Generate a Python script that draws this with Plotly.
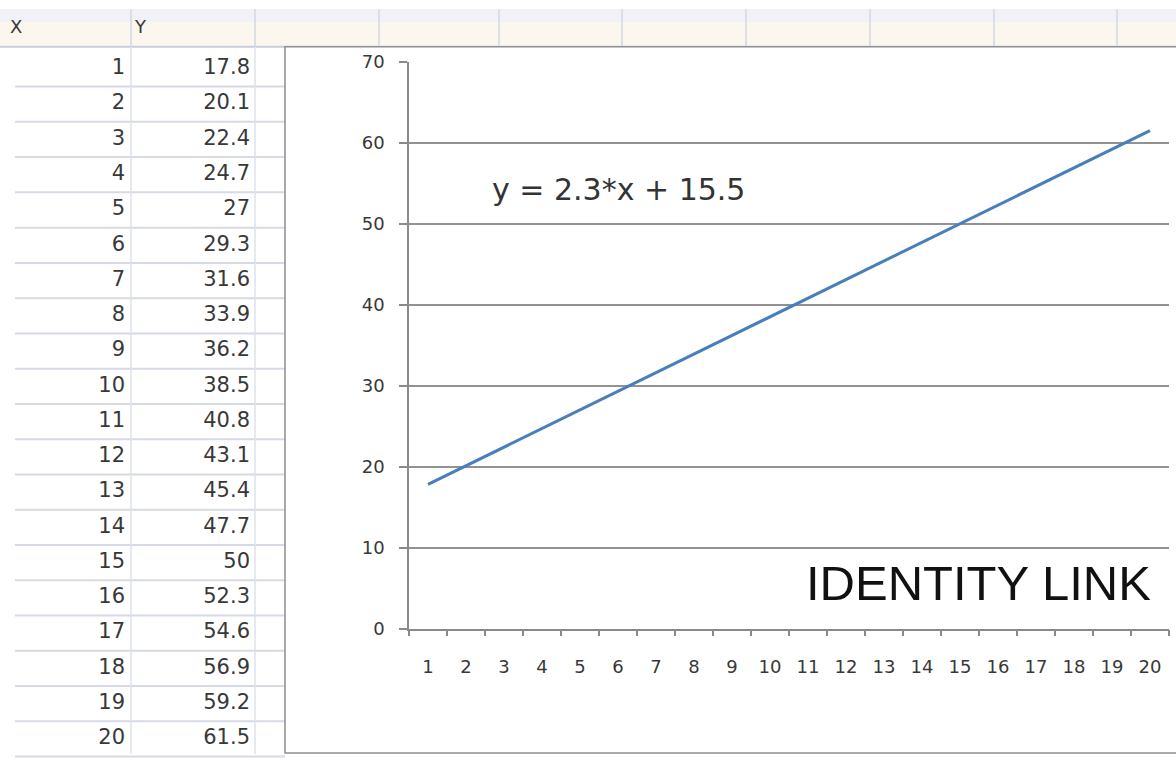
import plotly.graph_objects as go

# ---- data ----
x_vals = list(range(1, 21))
y_vals = [17.8, 20.1, 22.4, 24.7, 27, 29.3, 31.6, 33.9, 36.2, 38.5,
          40.8, 43.1, 45.4, 47.7, 50, 52.3, 54.6, 56.9, 59.2, 61.5]
header = ["X", "Y"]
x_tick_labels = [str(v) for v in x_vals]
y_tick_vals = [0, 10, 20, 30, 40, 50, 60, 70]
equation = "y = 2.3*x + 15.5"
chart_label = "IDENTITY LINK"

# ---- page geometry (screen pixels) ----
W, H = 1176, 764
TOP_OFF, VIS_H = 9, 746     # vertical extent the figure occupies on screen
ROW_TOP = 49.5              # top edge of first data row
ROW_H = 35.4                # data row height
COL_EDGES = [131, 255, 379, 499, 622, 746, 870, 994, 1117]
CHART_BOX = (285, 45, 1190, 754)    # left, top, right, bottom
PLOT_X = (409, 1169)
PLOT_Y = (60, 629)          # top (70), bottom (0)


def row_of(y):
    """screen y -> sheet row coordinate (row r is centred on r)."""
    return 0.5 + (y - ROW_TOP) / ROW_H


def px(v):
    return v / W


def py(v):
    return 1 - (v - TOP_OFF) / VIS_H


def val_at(y):
    """screen y -> value on the chart's y axis."""
    return (PLOT_Y[1] - y) * 70 / (PLOT_Y[1] - PLOT_Y[0])


def cat_at(x):
    """screen x -> position on the chart's category axis."""
    step = (PLOT_X[1] - PLOT_X[0]) / len(x_vals)
    return (x - PLOT_X[0]) / step - 0.5


sheet_font = dict(family="DejaVu Sans", size=21, color="#383838")
tick_font = dict(family="DejaVu Sans", size=18, color="#383838")

fig = go.Figure()

# sheet cells: X and Y columns
fig.add_trace(go.Scatter(
    x=[125] * len(x_vals), y=x_vals, text=[str(v) for v in x_vals],
    mode="text", textposition="middle left", textfont=sheet_font,
    xaxis="x2", yaxis="y2", hoverinfo="skip", showlegend=False))
fig.add_trace(go.Scatter(
    x=[250] * len(y_vals), y=x_vals, text=[f"{v:g}" for v in y_vals],
    mode="text", textposition="middle left", textfont=sheet_font,
    xaxis="x2", yaxis="y2", hoverinfo="skip", showlegend=False))
fig.add_trace(go.Scatter(
    x=[10, 135], y=[row_of(27)] * 2, text=header,
    mode="text", textposition="middle right",
    textfont=dict(family="DejaVu Sans", size=18, color="#383838"),
    xaxis="x2", yaxis="y2", hoverinfo="skip", showlegend=False))

# the line chart
fig.add_trace(go.Scatter(
    x=x_tick_labels, y=y_vals, mode="lines",
    line=dict(color="#4a7ebb", width=3),
    xaxis="x", yaxis="y", showlegend=False))

shapes = []
# header band of the sheet
shapes.append(dict(type="rect", xref="paper", yref="paper",
                   x0=0, x1=1, y0=py(20), y1=py(7),
                   fillcolor="#f1f1f7", line=dict(width=0), layer="below"))
shapes.append(dict(type="rect", xref="paper", yref="paper",
                   x0=0, x1=1, y0=py(45), y1=py(20),
                   fillcolor="#fbf7ee", line=dict(width=0), layer="below"))
shapes.append(dict(type="line", xref="paper", yref="paper",
                   x0=0, x1=1, y0=py(45), y1=py(45),
                   line=dict(color="#c9cdd9", width=2), layer="below"))
for cx in COL_EDGES:
    shapes.append(dict(type="line", xref="paper", yref="paper",
                       x0=px(cx), x1=px(cx), y0=py(45), y1=py(7),
                       line=dict(color="#d3d7e3", width=1.5), layer="below"))
# sheet row lines and column lines left of the chart
for k in range(1, 21):
    yy = ROW_TOP + k * ROW_H
    shapes.append(dict(type="line", xref="paper", yref="paper",
                       x0=px(15), x1=px(285), y0=py(yy), y1=py(yy),
                       line=dict(color="#d6dae4", width=2), layer="below"))
for cx in COL_EDGES[:2]:
    shapes.append(dict(type="line", xref="paper", yref="paper",
                       x0=px(cx), x1=px(cx), y0=py(TOP_OFF + VIS_H), y1=py(45),
                       line=dict(color="#dfe2ec", width=1.5), layer="below"))
# chart area box
shapes.append(dict(type="rect", xref="paper", yref="paper",
                   x0=px(CHART_BOX[0]), x1=px(CHART_BOX[2]),
                   y0=py(CHART_BOX[3]), y1=py(CHART_BOX[1]),
                   fillcolor="white", line=dict(color="#8f8f8f", width=1.5),
                   layer="below"))

fig.update_layout(
    width=W, height=H, autosize=False,
    margin=dict(l=0, r=0, t=0, b=0, pad=0),
    paper_bgcolor="white", plot_bgcolor="rgba(0,0,0,0)",
    showlegend=False,
    shapes=shapes,
    xaxis=dict(
        domain=[px(PLOT_X[0]), px(PLOT_X[1])],
        type="category", categoryorder="array", categoryarray=x_tick_labels,
        range=[-0.5, len(x_vals) - 0.5],
        tickson="boundaries", ticks="outside", ticklen=6, tickwidth=1.5,
        tickcolor="#8a8a8a",
        showline=True, linecolor="#8a8a8a", linewidth=1.5,
        showgrid=False, zeroline=False,
        tickfont=tick_font, ticklabelstandoff=21, fixedrange=True,
    ),
    yaxis=dict(
        domain=[py(PLOT_Y[1]), py(PLOT_Y[0])],
        range=[0, 70], tickvals=y_tick_vals,
        ticks="outside", ticklen=8, tickwidth=1.5, tickcolor="#8a8a8a",
        showline=True, linecolor="#8a8a8a", linewidth=1.5,
        showgrid=True, gridcolor="#929292", gridwidth=1.5, zeroline=False,
        tickfont=tick_font, ticklabelstandoff=11, fixedrange=True,
    ),
    xaxis2=dict(domain=[0, 1], range=[0, W], visible=False,
                anchor="y2", fixedrange=True),
    yaxis2=dict(domain=[0, 1],
                range=[row_of(TOP_OFF + VIS_H), row_of(TOP_OFF)],
                visible=False, anchor="x2", fixedrange=True),
    annotations=[
        dict(x=cat_at(490), y=val_at(188.5), xref="x", yref="y",
             text=equation, showarrow=False,
             xanchor="left", yanchor="middle",
             font=dict(family="DejaVu Sans", size=30, color="#333333")),
        dict(x=cat_at(804), y=val_at(583), xref="x", yref="y",
             text=chart_label, showarrow=False,
             xanchor="left", yanchor="middle",
             font=dict(family="Liberation Sans", size=49, color="#111111")),
    ],
)

fig.write_html("out.html", config={"responsive": False, "displayModeBar": False})
